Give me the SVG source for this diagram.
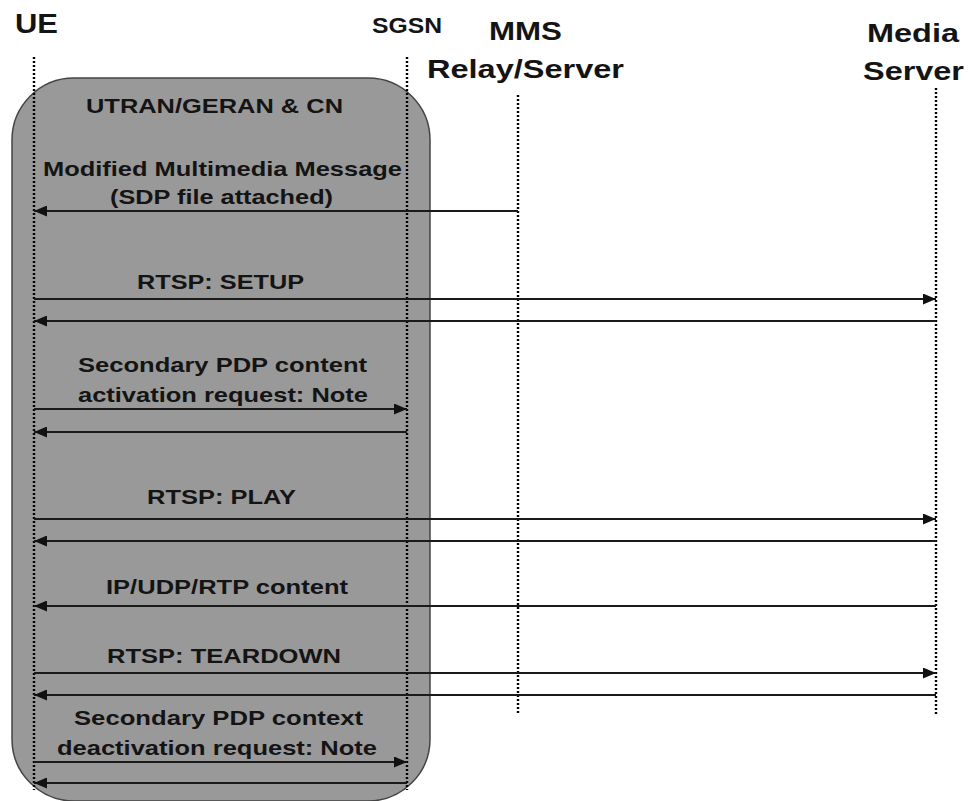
<svg xmlns="http://www.w3.org/2000/svg" width="968" height="801" viewBox="0 0 968 801">
<style>
text{font-family:"Liberation Sans",Arial,sans-serif;font-weight:bold;fill:#141414}
.t{font-size:26px}
.m{font-size:21px}
.life{stroke:#000;stroke-width:2.4;stroke-dasharray:2 2;fill:none}
.msg{stroke:#1a1a1a;stroke-width:2;fill:none}
.r{marker-end:url(#ah)}
</style>
<defs>
<marker id="ah" viewBox="0 0 13 11" refX="13" refY="5.5" markerWidth="13" markerHeight="11" markerUnits="userSpaceOnUse" orient="auto">
<path d="M0,0 L13,5.5 L0,11 Z" fill="#111"/>
</marker>
</defs>
<rect width="968" height="801" fill="#fff"/>
<g id="domain">
<rect x="12" y="78" width="418" height="723" rx="62" ry="62" fill="#999" stroke="#444" stroke-width="1.5"/>
<text class="m" x="86" y="113" textLength="257" lengthAdjust="spacingAndGlyphs" style="font-size:20px">UTRAN/GERAN &amp; CN</text>
</g>
<g id="ue">
<text class="t" x="15" y="33" textLength="43" lengthAdjust="spacingAndGlyphs" style="font-size:27px">UE</text>
<line class="life" x1="34" y1="57" x2="34" y2="790"/>
</g>
<g id="sgsn">
<text class="t" x="372" y="33" textLength="70" lengthAdjust="spacingAndGlyphs" style="font-size:22px">SGSN</text>
<line class="life" x1="407" y1="57" x2="407" y2="790"/>
</g>
<g id="mms">
<text class="t" x="489" y="40" textLength="73" lengthAdjust="spacingAndGlyphs">MMS</text>
<text class="t" x="427" y="78" textLength="197" lengthAdjust="spacingAndGlyphs">Relay/Server</text>
<line class="life" x1="518" y1="95" x2="518" y2="715"/>
</g>
<g id="media">
<text class="t" x="867" y="42" textLength="92" lengthAdjust="spacingAndGlyphs">Media</text>
<text class="t" x="863" y="80" textLength="101" lengthAdjust="spacingAndGlyphs">Server</text>
<line class="life" x1="936" y1="88" x2="936" y2="715"/>
</g>
<g id="connectors">
<line class="msg r" x1="518" y1="211" x2="34" y2="211"/>
<line class="msg r" x1="34" y1="299" x2="936" y2="299"/>
<line class="msg r" x1="936" y1="321" x2="34" y2="321"/>
<line class="msg r" x1="34" y1="409" x2="407" y2="409"/>
<line class="msg r" x1="407" y1="432" x2="34" y2="432"/>
<line class="msg r" x1="34" y1="519" x2="936" y2="519"/>
<line class="msg r" x1="936" y1="541" x2="34" y2="541"/>
<line class="msg r" x1="936" y1="606" x2="34" y2="606"/>
<line class="msg r" x1="34" y1="673" x2="936" y2="673"/>
<line class="msg r" x1="936" y1="695" x2="34" y2="695"/>
<line class="msg r" x1="34" y1="762" x2="407" y2="762"/>
<line class="msg r" x1="407" y1="783" x2="34" y2="783"/>
</g>
<g id="labels">
<text class="m" x="43" y="176" textLength="359" lengthAdjust="spacingAndGlyphs">Modified Multimedia Message</text>
<text class="m" x="110" y="204" textLength="223" lengthAdjust="spacingAndGlyphs">(SDP file attached)</text>
<text class="m" x="137" y="289" textLength="167" lengthAdjust="spacingAndGlyphs">RTSP: SETUP</text>
<text class="m" x="78" y="372" textLength="289" lengthAdjust="spacingAndGlyphs">Secondary PDP content</text>
<text class="m" x="78" y="402" textLength="290" lengthAdjust="spacingAndGlyphs">activation request: Note</text>
<text class="m" x="147" y="504" textLength="149" lengthAdjust="spacingAndGlyphs">RTSP: PLAY</text>
<text class="m" x="106" y="594" textLength="242" lengthAdjust="spacingAndGlyphs">IP/UDP/RTP content</text>
<text class="m" x="107" y="663" textLength="234" lengthAdjust="spacingAndGlyphs">RTSP: TEARDOWN</text>
<text class="m" x="74" y="725" textLength="289" lengthAdjust="spacingAndGlyphs">Secondary PDP context</text>
<text class="m" x="57" y="755" textLength="320" lengthAdjust="spacingAndGlyphs">deactivation request: Note</text>
</g>
</svg>
